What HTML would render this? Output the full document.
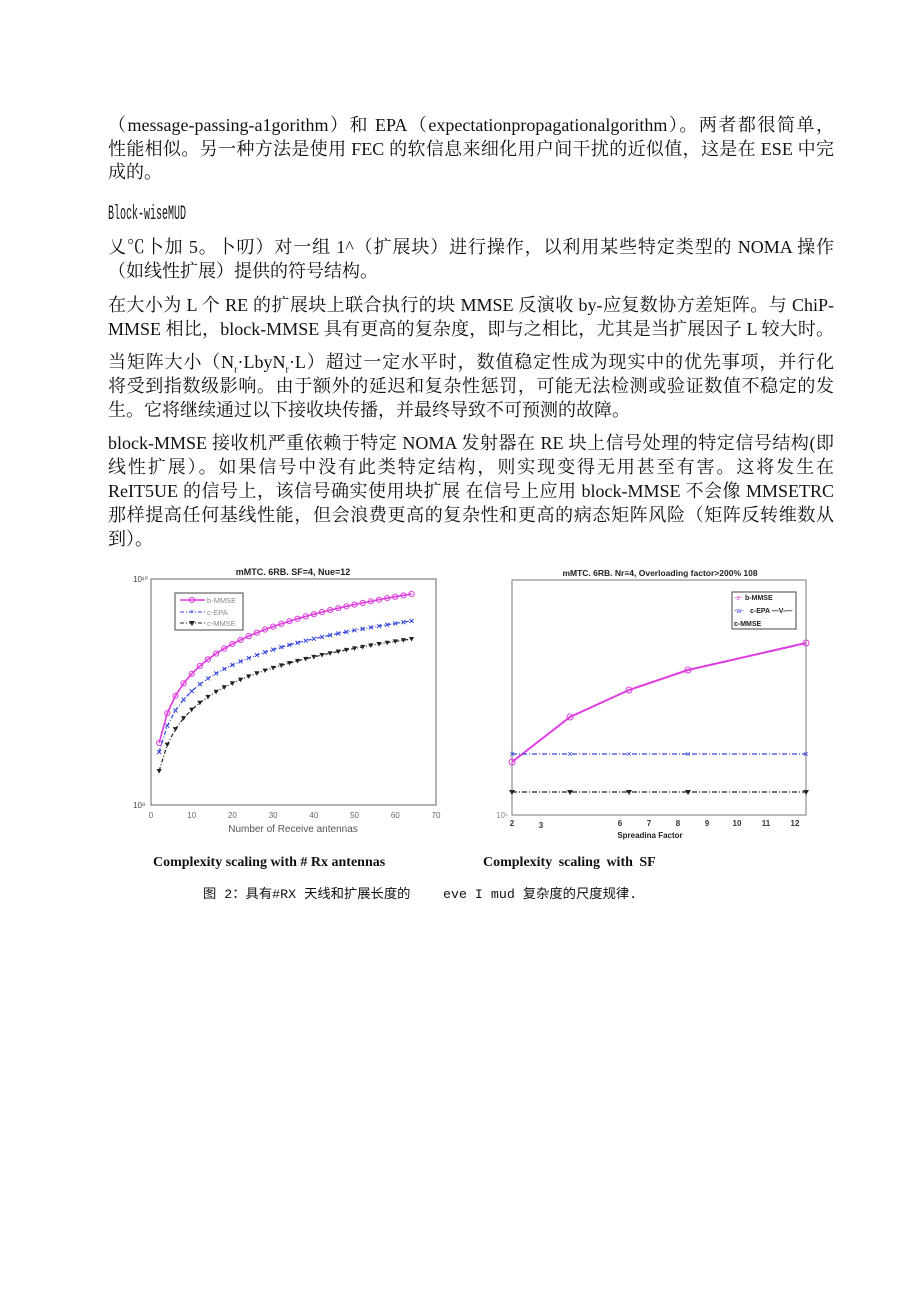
<!DOCTYPE html>
<html><head><meta charset="utf-8">
<style>
html,body{margin:0;padding:0;background:#fff;}
body{width:920px;height:1301px;position:relative;overflow:hidden;font-family:"Liberation Serif","Noto Serif CJK SC","Noto Sans CJK SC",serif;color:#111;}
.l{position:absolute;left:108px;width:726px;font-size:18px;line-height:22px;white-space:nowrap;text-align:justify;text-align-last:justify;}
.s{text-align-last:left;}
.m{font-family:"Liberation Mono",monospace;font-size:20px;transform:scaleX(0.5);transform-origin:0 0;width:auto;}
.cap{position:absolute;font-weight:bold;font-size:14px;font-family:"Liberation Serif",serif;white-space:nowrap;}
.fc{position:absolute;font-size:13.3px;font-family:"Liberation Mono","Noto Sans CJK SC",monospace;white-space:nowrap;}
svg{position:absolute;left:0;top:0;}
svg text{font-family:"Liberation Sans",sans-serif;}
</style></head><body>
<div class="l" style="top:114px">（message-passing-a1gorithm）和 EPA（expectationpropagationalgorithm）。两者都很简单，</div>
<div class="l" style="top:138px">性能相似。另一种方法是使用 FEC 的软信息来细化用户间干扰的近似值，这是在 ESE 中完</div>
<div class="l s" style="top:161px">成的。</div>
<div class="l s m" style="top:204px">Block-wiseMUD</div>
<div class="l" style="top:236px">乂℃卜加 5。卜叨）对一组 1^（扩展块）进行操作，以利用某些特定类型的 NOMA 操作</div>
<div class="l s" style="top:260px">（如线性扩展）提供的符号结构。</div>
<div class="l" style="top:294px">在大小为 L 个 RE 的扩展块上联合执行的块 MMSE 反演收 by-应复数协方差矩阵。与 ChiP-</div>
<div class="l" style="top:318px">MMSE 相比，block-MMSE 具有更高的复杂度，即与之相比，尤其是当扩展因子 L 较大时。</div>
<div class="l" style="top:351px">当矩阵大小（N<sub style="font-size:10px">r</sub>·LbyN<sub style="font-size:10px">r</sub>·L）超过一定水平时，数值稳定性成为现实中的优先事项，并行化</div>
<div class="l" style="top:375px">将受到指数级影响。由于额外的延迟和复杂性惩罚，可能无法检测或验证数值不稳定的发</div>
<div class="l s" style="top:399px">生。它将继续通过以下接收块传播，并最终导致不可预测的故障。</div>
<div class="l" style="top:432px">block-MMSE 接收机严重依赖于特定 NOMA 发射器在 RE 块上信号处理的特定信号结构(即</div>
<div class="l" style="top:456px">线性扩展）。如果信号中没有此类特定结构，则实现变得无用甚至有害。这将发生在</div>
<div class="l" style="top:480px">ReIT5UE 的信号上，该信号确实使用块扩展 在信号上应用 block-MMSE 不会像 MMSETRC</div>
<div class="l" style="top:504px">那样提高任何基线性能，但会浪费更高的复杂性和更高的病态矩阵风险（矩阵反转维数从</div>
<div class="l s" style="top:528px">到）。</div>

<svg width="920" height="1301" id="sv">
<text x="293" y="575" font-size="9" font-weight="bold" text-anchor="middle" fill="#222">mMTC. 6RB. SF=4, Nue=12</text>
<rect x="151" y="579" width="285" height="226" fill="#fff" stroke="#666" stroke-width="1"/>
<text x="133" y="582" font-size="8" fill="#444">10¹⁰</text>
<text x="133" y="808" font-size="8" fill="#444">10⁸</text>
<g font-size="8" fill="#666" text-anchor="middle" id="lx"></g>
<text x="293" y="832" font-size="10" fill="#555" text-anchor="middle">Number of Receive antennas</text>
<g id="lc"></g>
<rect x="175" y="593" width="68" height="37" fill="#fff" stroke="#444" stroke-width="1"/>
<line x1="180" y1="600" x2="205" y2="600" stroke="#e03ce0" stroke-width="1.5"/><circle cx="192" cy="600" r="2.5" fill="none" stroke="#e03ce0"/>
<text x="207" y="603" font-size="7.5" fill="#888">b-MMSE</text>
<line x1="180" y1="612" x2="205" y2="612" stroke="#3344dd" stroke-dasharray="4,2,1,2"/><text x="192" y="614" font-size="7" fill="#3344dd" text-anchor="middle">×</text>
<text x="207" y="615" font-size="7.5" fill="#888">c-EPA</text>
<line x1="180" y1="623" x2="205" y2="623" stroke="#222" stroke-dasharray="4,2,1,2"/><path d="M189 621 L195 621 L192 626 Z" fill="#222"/>
<text x="207" y="626" font-size="7.5" fill="#888">c-MMSE</text>

<text x="660" y="576" font-size="8.5" font-weight="bold" text-anchor="middle" fill="#222">mMTC. 6RB. Nr≡4, Overloading factor&gt;200% 108</text>
<rect x="512" y="580" width="294" height="235" fill="#fff" stroke="#777" stroke-width="1"/>
<text x="496" y="818" font-size="8" fill="#888">10⁵</text>
<g font-size="8" font-weight="bold" fill="#333" text-anchor="middle">
<text x="512" y="826">2</text><text x="541" y="828">3</text><text x="620" y="826">6</text><text x="649" y="826">7</text><text x="678" y="826">8</text><text x="707" y="826">9</text><text x="737" y="826">10</text><text x="766" y="826">11</text><text x="795" y="826">12</text>
</g>
<text x="650" y="838" font-size="8" font-weight="bold" fill="#222" text-anchor="middle">Spreadina Factor</text>
<polyline points="512,762 570,717 629,690 688,670 806,643" fill="none" stroke="#e03ce0" stroke-width="2"/>
<g fill="none" stroke="#e03ce0"><circle cx="512" cy="762" r="3"/><circle cx="570" cy="717" r="3"/><circle cx="629" cy="690" r="3"/><circle cx="688" cy="670" r="3"/><circle cx="806" cy="643" r="3"/></g>
<line x1="512" y1="754" x2="806" y2="754" stroke="#3344dd" stroke-width="1.2" stroke-dasharray="5,2,1,2"/>
<g font-size="9" fill="#3344dd" text-anchor="middle"><text x="512" y="757">×</text><text x="570" y="757">×</text><text x="629" y="757">×</text><text x="688" y="757">×</text><text x="806" y="757">×</text></g>
<line x1="512" y1="792" x2="806" y2="792" stroke="#222" stroke-width="1.2" stroke-dasharray="5,2,1,2"/>
<g fill="#222"><path d="M509 790 L515 790 L512 795Z"/><path d="M567 790 L573 790 L570 795Z"/><path d="M626 790 L632 790 L629 795Z"/><path d="M685 790 L691 790 L688 795Z"/><path d="M803 790 L809 790 L806 795Z"/></g>
<rect x="732" y="592" width="64" height="37" fill="#fff" stroke="#444" stroke-width="1"/>
<text x="734" y="600" font-size="7" fill="#e03ce0">-e-</text><text x="745" y="600" font-size="7" font-weight="bold" fill="#222">b-MMSE</text>
<text x="734" y="613" font-size="7" fill="#3344dd">-w-</text><text x="750" y="613" font-size="7" font-weight="bold" fill="#222">c-EPA —V-—</text>
<text x="734" y="626" font-size="7" font-weight="bold" fill="#222">c-MMSE</text>
</svg>

<div class="cap" style="left:153px;top:855px;">Complexity scaling with # Rx antennas</div>
<div class="cap" style="left:483px;top:855px;word-spacing:3px;">Complexity scaling with SF</div>
<div class="fc" style="left:203px;top:883px;">图 2：具有#RX 天线和扩展长度的</div>
<div class="fc" style="left:443px;top:883px;">eve I mud 复杂度的尺度规律.</div>

<script>
(function(){
var NS="http://www.w3.org/2000/svg";
function X(v){return 151+v*285/70;}
var lx=document.getElementById("lx");
for(var t=0;t<=70;t+=10){var e=document.createElementNS(NS,"text");e.setAttribute("x",X(t));e.setAttribute("y",818);e.textContent=t;lx.appendChild(e);}
var g=document.getElementById("lc");
var ser=[[743,43,"#e03ce0","c",null],[752,37.8,"#3344dd","x","4,2,1,2"],[771,38.1,"#222","t","4,2,1,2"]];
ser.forEach(function(s){
 var pts=[];
 for(var x=2;x<=64;x+=2){pts.push([X(x),s[0]-s[1]*(Math.log(x)-Math.log(2))]);}
 var pl=document.createElementNS(NS,"polyline");
 pl.setAttribute("points",pts.map(function(p){return p[0].toFixed(1)+","+p[1].toFixed(1)}).join(" "));
 pl.setAttribute("fill","none");pl.setAttribute("stroke",s[2]);pl.setAttribute("stroke-width",s[3]=="c"?1.6:1.2);
 if(s[4])pl.setAttribute("stroke-dasharray",s[4]);
 g.appendChild(pl);
 pts.forEach(function(p){
  var m;
  if(s[3]=="c"){m=document.createElementNS(NS,"circle");m.setAttribute("cx",p[0]);m.setAttribute("cy",p[1]);m.setAttribute("r",2.6);m.setAttribute("fill","none");m.setAttribute("stroke",s[2]);}
  else if(s[3]=="x"){m=document.createElementNS(NS,"path");m.setAttribute("d","M"+(p[0]-2)+" "+(p[1]-2)+"L"+(p[0]+2)+" "+(p[1]+2)+"M"+(p[0]-2)+" "+(p[1]+2)+"L"+(p[0]+2)+" "+(p[1]-2));m.setAttribute("stroke",s[2]);}
  else{m=document.createElementNS(NS,"path");m.setAttribute("d","M"+(p[0]-2.6)+" "+(p[1]-2)+"L"+(p[0]+2.6)+" "+(p[1]-2)+"L"+p[0]+" "+(p[1]+2.6)+"Z");m.setAttribute("fill",s[2]);}
  g.appendChild(m);
 });
});
})();
</script>
</body></html>
